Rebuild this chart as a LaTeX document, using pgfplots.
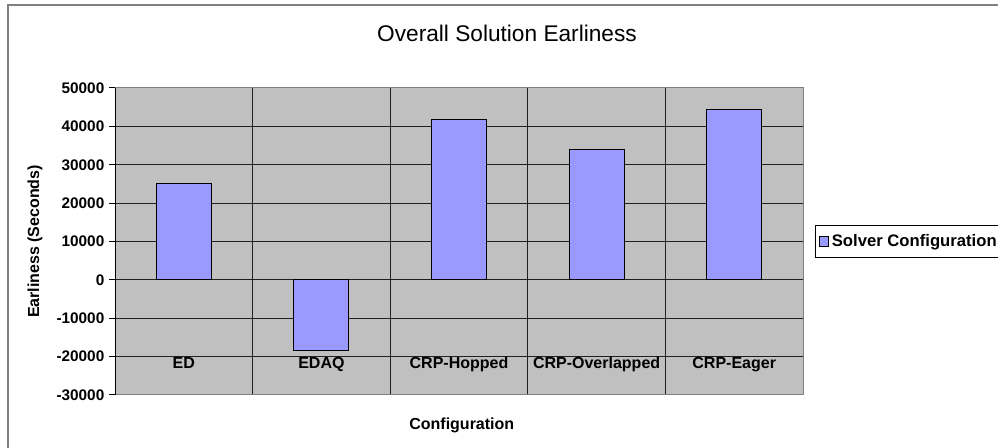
\documentclass[border=0pt]{standalone}
\usepackage{pgfplots}
\pgfplotsset{compat=1.18}
\usepackage{fontspec}
\setmainfont{Liberation Sans}
\definecolor{barcol}{HTML}{9999FF}
\definecolor{plotbg}{HTML}{C0C0C0}
\definecolor{framegray}{HTML}{808080}
\definecolor{gridcol}{HTML}{202020}
\begin{document}
\begin{tikzpicture}
\useasboundingbox (0,0) rectangle (748.5pt,336pt);
\fill[white] (0,0) rectangle (748.5pt,336pt);
\draw[framegray, line width=1.5pt] (6pt,-5pt) -- (6pt,332.25pt) -- (760pt,332.25pt);
\node[font=\fontsize{17}{20}\selectfont, anchor=center] at (380.25pt,311.25pt) {Overall Solution Earliness};
\begin{axis}[
  at={(86.25pt,39.75pt)}, anchor=south west,
  scale only axis, width=516pt, height=230.25pt,
  xmin=-0.5, xmax=4.5, ymin=-30000, ymax=50000,
  ybar, bar width=41.25pt,
  axis background/.style={fill=plotbg},
  axis line style={framegray, line width=0.75pt},
  xtick=data,
  xticklabels={ED,EDAQ,CRP-Hopped,CRP-Overlapped,CRP-Eager},
  xtick style={draw=none},
  xticklabel style={font=\fontsize{12}{14}\selectfont\bfseries, anchor=base, yshift=24.5pt},
  minor xtick={0.5,1.5,2.5,3.5},
  minor x tick style={draw=none},
  xminorgrids=true,
  minor grid style={gridcol, line width=0.75pt},
  ytick={-30000,-20000,-10000,0,10000,20000,30000,40000,50000},
  ymajorgrids=true,
  major grid style={gridcol, line width=0.75pt},
  ytick pos=left, tick align=outside, major tick length=4.5pt,
  ytick style={black, line width=0.75pt},
  yticklabel style={font=\fontsize{11.5}{13}\selectfont\bfseries},
  /pgf/number format/assume math mode=true,
  /pgf/number format/1000 sep={},
  scaled y ticks=false,
  ylabel={Earliness (Seconds)},
  ylabel style={at={(axis description cs:-0.1163,0.5)}, anchor=center, font=\fontsize{12}{14}\selectfont\bfseries},
  xlabel={Configuration},
  xlabel style={at={(axis description cs:0.504,-0.098)}, anchor=center, font=\fontsize{12}{14}\selectfont\bfseries},
  legend style={at={(axis description cs:1.0174,0.5)}, anchor=west, draw=black, line width=0.75pt,
    font=\fontsize{12.5}{14}\selectfont\bfseries, inner sep=2.5pt, minimum height=19.5pt},
  legend image code/.code={\draw[fill=barcol, draw=black, line width=0.6pt] (0pt,-3.6pt) rectangle (7.2pt,3.6pt);},
]
\addplot[fill=barcol, draw=black, line width=0.75pt, bar shift=0pt] coordinates {
  (0,25200) (1,-18450) (2,41900) (3,33900) (4,44500)
};
\addlegendentry{Solver Configuration}
\draw[black, line width=0.75pt] (rel axis cs:0,0) -- (rel axis cs:0,1);
\end{axis}
\end{tikzpicture}
\end{document}
